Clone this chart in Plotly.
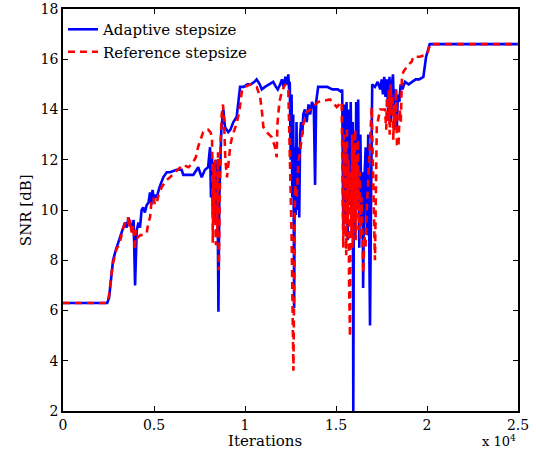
import plotly.graph_objects as go

adaptive_iter = [
    0, 2430, 2530, 2630, 2750, 2900, 3130, 3300, 3400, 3500, 3600, 3680, 3780, 3880, 3960,
    4050, 4150, 4230, 4320, 4410, 4500, 4600, 4700, 4780, 4850, 4920, 5000, 5060, 5150, 5300,
    5510, 5700, 5880, 6250, 6520, 6610, 6900, 7160, 7430, 7620, 7800, 7970, 8080, 8130, 8180,
    8230, 8280, 8330, 8380, 8430, 8480, 8540, 8590, 8630, 8700, 8810, 8900, 9080, 9200, 9360,
    9540, 9730, 9930, 10130, 10320, 10520, 10640, 10810, 10920, 11100, 11300, 11550, 11700, 11800, 11930,
    12030, 12120, 12220, 12300, 12380, 12420, 12460, 12510, 12560, 12600, 12650, 12700, 12740, 12790, 12830,
    12880, 12930, 12980, 13030, 13080, 13150, 13200, 13290, 13390, 13490, 13580, 13680, 13780, 13850, 13910,
    13980, 14020, 14220, 14510, 14800, 15100, 15290, 15340, 15400, 15460, 15520, 15580, 15640, 15700, 15760,
    15810, 15870, 15920, 15950, 15990, 16050, 16110, 16160, 16220, 16280, 16340, 16400, 16460, 16490, 16550,
    16630, 16700, 16770, 16830, 16870, 16920, 16990, 17140, 17290, 17430, 17510, 17580, 17650, 17720, 17800,
    17870, 17940, 18010, 18070, 18130, 18210, 18290, 18340, 18400, 18480, 18550, 18650, 18790, 18990, 19180,
    19380, 19570, 19800, 19950, 20150, 25000,
]
adaptive_snr = [
    6.3, 6.3, 6.5, 7.3, 8.0, 8.4, 8.9, 9.2, 9.5, 9.3, 9.7, 9.5, 9.2, 9.6, 7.0,
    9.2, 9.5, 9.3, 10.0, 10.1, 9.9, 10.2, 10.3, 10.7, 10.2, 10.8, 10.4, 10.6, 10.5, 10.9,
    11.3, 11.5, 11.5, 11.6, 11.6, 11.4, 11.4, 11.4, 11.7, 11.3, 11.6, 11.7, 12.5, 10.5, 12.2,
    9.8, 11.9, 9.5, 12.0, 10.0, 11.8, 5.95, 10.5, 12.0, 13.2, 14.0, 13.3, 13.1, 13.2, 13.5,
    13.7, 14.9, 14.9, 15.0, 15.0, 15.1, 15.2, 15.0, 14.8, 14.9, 15.0, 15.1, 14.9, 14.8, 15.0,
    15.2, 14.9, 15.3, 15.0, 15.4, 14.8, 15.1, 12.0, 14.6, 10.5, 13.8, 6.1, 12.5, 9.8, 13.5,
    10.0, 12.5, 9.7, 13.0, 13.5, 13.0, 13.8, 14.0, 13.5, 14.2, 13.8, 14.3, 14.1, 11.0, 14.3,
    14.6, 14.9, 14.9, 14.9, 14.8, 14.8, 14.7, 14.8, 9.3, 14.2, 9.8, 14.3, 8.8, 14.0, 10.2,
    14.3, 9.5, 13.5, 2.0, 13.0, 9.0, 14.3, 10.0, 14.4, 8.5, 13.0, 9.5, 11.5, 6.9, 11.0,
    12.5, 9.0, 13.0, 8.0, 5.4, 10.0, 15.0, 14.9, 15.1, 14.8, 15.2, 14.6, 15.3, 14.5, 15.2,
    13.8, 15.3, 13.5, 15.0, 15.4, 13.3, 14.8, 13.2, 14.6, 14.3, 15.0, 14.8, 15.1, 15.0, 15.1,
    15.2, 15.2, 15.3, 16.1, 16.6, 16.6,
]

reference_iter = [
    0, 2430, 2530, 2720, 2920, 3120, 3310, 3570, 3620, 3700, 3780, 3860, 3950, 3990, 4100,
    4250, 4400, 4600, 4690, 4780, 4870, 4960, 5050, 5150, 5250, 5420, 5700, 5880, 6150, 6600,
    6900, 7150, 7300, 7420, 7560, 7700, 7850, 7970, 8100, 8190, 8230, 8270, 8310, 8350, 8400,
    8440, 8480, 8520, 8560, 8600, 8650, 8720, 8790, 8850, 8920, 9010, 9100, 9200, 9290, 9430,
    9560, 9700, 9840, 10000, 10300, 10640, 10830, 10920, 11010, 11190, 11470, 11650, 11740, 11780, 11890,
    12020, 12200, 12380, 12470, 12560, 12660, 12750, 12840, 12930, 13020, 13200, 13390, 13600, 14010, 14670,
    15040, 15310, 15400, 15440, 15480, 15520, 15560, 15600, 15640, 15680, 15720, 15770, 15810, 15850, 15890,
    15930, 15970, 16010, 16050, 16090, 16130, 16170, 16210, 16250, 16300, 16350, 16400, 16450, 16500, 16560,
    16620, 16690, 16780, 16870, 16960, 17050, 17140, 17240, 17420, 17690, 17760, 17800, 17850, 17900, 17950,
    18000, 18050, 18100, 18150, 18200, 18250, 18300, 18350, 18430, 18500, 18560, 18620, 18700, 18790, 18900,
    19000, 19160, 19240, 19600, 20000, 20170, 25000,
]
reference_snr = [
    6.3, 6.3, 6.6, 7.8, 8.4, 8.7, 9.3, 9.7, 9.3, 9.6, 9.0, 9.4, 8.4, 9.2, 8.9,
    9.0, 9.0, 9.1, 9.5, 9.7, 10.4, 10.5, 10.2, 10.3, 10.6, 10.9, 11.2, 11.3, 11.5, 11.8,
    11.7, 11.9, 12.1, 12.5, 12.8, 13.1, 13.2, 13.2, 13.1, 12.9, 8.7, 11.8, 9.5, 12.0, 8.6,
    11.5, 9.0, 12.3, 7.6, 11.0, 12.5, 13.8, 14.2, 13.5, 12.0, 11.3, 12.0, 12.6, 12.9, 13.2,
    13.5, 14.0, 14.8, 14.9, 15.0, 14.9, 14.5, 14.0, 13.3, 13.1, 12.9, 12.5, 12.1, 13.4, 14.3,
    14.7, 15.0, 14.8, 12.0, 9.0, 3.6, 11.0, 10.5, 11.9, 12.3, 13.4, 13.9, 14.0, 14.3, 14.4,
    14.1, 14.3, 8.5, 13.0, 9.0, 12.5, 8.2, 13.3, 9.5, 12.0, 7.0, 4.95, 11.5, 9.0, 13.0,
    8.5, 12.5, 9.5, 13.2, 8.8, 12.0, 10.0, 12.8, 9.2, 11.5, 8.8, 10.5, 8.2, 7.5, 9.0,
    8.5, 10.0, 11.5, 12.7, 14.1, 11.0, 8.0, 13.3, 14.0, 14.0, 13.2, 14.5, 13.5, 14.8, 13.0,
    15.0, 13.8, 14.6, 12.8, 14.2, 13.2, 14.8, 12.6, 12.5, 14.0, 13.5, 15.2, 15.5, 15.6, 15.7,
    15.8, 15.9, 16.1, 16.1, 16.2, 16.6, 16.6,
]

x_tickvals = [0, 5000, 10000, 15000, 20000, 25000]
x_ticktext = ["0", "0.5", "1", "1.5", "2", "2.5"]
y_tickvals = [2, 4, 6, 8, 10, 12, 14, 16, 18]

FONT = "DejaVu Serif"

fig = go.Figure()
fig.add_trace(go.Scatter(
    x=adaptive_iter, y=adaptive_snr, mode="lines", name="Adaptive stepsize",
    line=dict(color="#0000ff", width=2.6),
))
fig.add_trace(go.Scatter(
    x=reference_iter, y=reference_snr, mode="lines", name="Reference stepsize",
    line=dict(color="#ff0000", width=2.6, dash="7px,5px"),
))

axis_common = dict(
    showline=True, linecolor="black", linewidth=1.5, mirror="allticks",
    ticks="inside", ticklen=5, tickcolor="black", tickwidth=1,
    showgrid=False, zeroline=False,
    tickfont=dict(family=FONT, size=14, color="black"),
)

fig.update_layout(
    width=536, height=451,
    margin=dict(l=63, r=18, t=9, b=40, autoexpand=False),
    paper_bgcolor="white", plot_bgcolor="white",
    showlegend=True,
    legend=dict(
        x=0.0, y=0.99, xanchor="left", yanchor="top",
        bgcolor="rgba(0,0,0,0)", borderwidth=0,
        font=dict(family=FONT, size=15, color="black"),
        tracegroupgap=0, itemwidth=30,
    ),
    xaxis=dict(range=[0, 25000], tickvals=x_tickvals, ticktext=x_ticktext, **axis_common),
    yaxis=dict(range=[2, 18], tickvals=y_tickvals, **axis_common),
    annotations=[
        dict(text="Iterations", xref="paper", yref="paper", x=0.444, y=-0.0746,
             xanchor="center", yanchor="middle", showarrow=False,
             font=dict(family=FONT, size=15, color="black")),
        dict(text="x 10<sup>4</sup>", xref="paper", yref="paper", x=1.0, y=-0.0995,
             xanchor="right", yanchor="bottom", showarrow=False,
             font=dict(family=FONT, size=13, color="black")),
        dict(text="SNR [dB]", xref="paper", yref="paper", x=-0.081, y=0.5,
             xanchor="center", yanchor="middle", textangle=-90, showarrow=False,
             font=dict(family=FONT, size=15, color="black")),
    ],
)

fig.write_html(
    "out.html",
    config={"displayModeBar": False},
    post_script="document.body.style.margin='0px';document.body.style.overflow='hidden';",
)
